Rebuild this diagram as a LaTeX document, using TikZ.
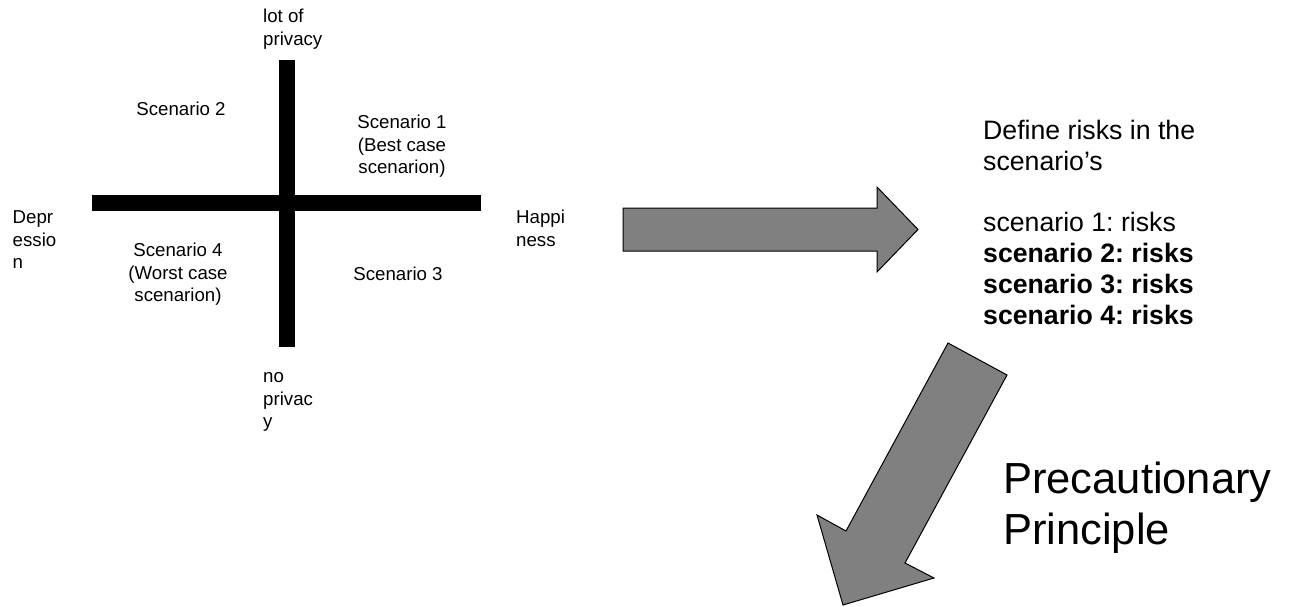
\documentclass[tikz,border=0pt]{standalone}
\usepackage{fontspec}
\setmainfont{Liberation Sans}
\frenchspacing
\definecolor{arrowgray}{HTML}{808080}
\newcommand\mylinesC[1]{\vtop{\halign{\hfil##\hfil\cr#1\crcr}}}
\newcommand\mylinesL[1]{\vtop{\halign{##\hfil\cr#1\crcr}}}
\tikzset{
  lbl/.style={inner sep=0pt, font=\fontsize{18.67}{22.5}\selectfont},
  risk/.style={inner sep=0pt, font=\fontsize{26.67}{30.8}\selectfont},
  bigtxt/.style={inner sep=0pt, font=\fontsize{43.5}{51}\selectfont},
  bar/.style={fill=black, draw=none},
  blockarrow/.style={fill=arrowgray, draw=black, line width=1pt, line join=miter},
}
\begin{document}
\begin{tikzpicture}[x=1pt, y=-1pt]
\useasboundingbox (0,0) rectangle (1303,607);
% cross
\fill[bar] (92,195) rectangle (481,211);
\fill[bar] (279,60) rectangle (295,347);
% labels
\node[lbl, anchor=base west] (lot) at (263,22.7) {\mylinesL{lot of\cr privacy}};
\node[lbl, anchor=base] (sc2) at (181,115.7) {Scenario 2};
\node[lbl, anchor=base] (sc1) at (402,128.7) {\mylinesC{Scenario 1\cr (Best case\cr scenarion)}};
\node[lbl, anchor=base west] (dep) at (12.5,223.7) {\mylinesL{Depr\cr essio\cr n}};
\node[lbl, anchor=base west] (hap) at (516,223.7) {\mylinesL{Happi\cr ness}};
\node[lbl, anchor=base] (sc4) at (178,256.7) {\mylinesC{Scenario 4\cr (Worst case\cr scenarion)}};
\node[lbl, anchor=base] (sc3) at (398,280.7) {Scenario 3};
\node[lbl, anchor=base west] (nop) at (263,382.7) {\mylinesL{no\cr privac\cr y}};
% right block arrow
\filldraw[blockarrow] (623,208) -- (877,208) -- (877,187) -- (918,229.5) -- (877,272) -- (877,251) -- (623,251) -- cycle;
% risks text
\node[risk, anchor=base west] (risks) at (983,139.5) {\mylinesL{Define risks in the\cr scenario’s\cr \cr scenario 1: risks\cr \bfseries scenario 2: risks\cr \bfseries scenario 3: risks\cr \bfseries scenario 4: risks}};
% down block arrow
\filldraw[blockarrow] (948,343) -- (1007,375) -- (905,563) -- (934,578) -- (843,605) -- (817,515) -- (846,531) -- cycle;
% precautionary
\node[bigtxt, anchor=base west] (prec) at (1003,493) {\mylinesL{Precautionary\cr Principle}};
\end{tikzpicture}
\end{document}
